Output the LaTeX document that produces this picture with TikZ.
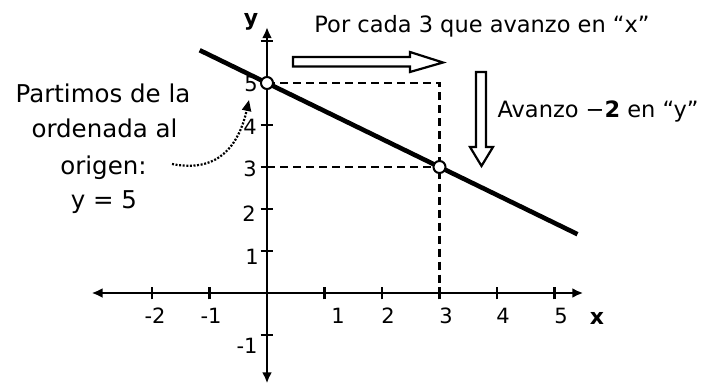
\documentclass[tikz,border=0pt]{standalone}
\usepackage{fontspec}
\setmainfont{DejaVu Sans}
\usetikzlibrary{arrows.meta}
\begin{document}
\begin{tikzpicture}[x=1pt,y=-1pt,
  axisline/.style={line width=2.4pt,{Latex[length=11pt,width=10pt]}-{Latex[length=11pt,width=10pt]}},
  tickmark/.style={line width=2.2pt},
  graphline/.style={line width=4.6pt},
  dashline/.style={line width=2.4pt,dash pattern=on 8pt off 5pt},
  ptmark/.style={circle,draw,line width=2pt,fill=white,minimum size=12pt,inner sep=0pt},
  hollow/.style={draw,line width=2.2pt,fill=white,line join=miter},
  dotarrow/.style={line width=2.2pt,dash pattern=on 2pt off 1.6pt,-{Triangle[length=11pt,width=9pt]}},
  ticklabel/.style={font=\fontsize{21}{23}\selectfont,inner sep=0pt},
  axislabel/.style={font=\fontsize{22}{24}\selectfont\bfseries,inner sep=0pt,anchor=base},
  note/.style={font=\fontsize{22.5}{26}\selectfont,inner sep=0pt,anchor=base},
  leftnote/.style={font=\fontsize{24.5}{28}\selectfont,inner sep=0pt,anchor=base}
]
\useasboundingbox (0,0) rectangle (712,385);

\begin{scope}[shift={(267,293)},x=57.5pt,y=42pt]
  \coordinate (xl) at (-3.05,0);
  \coordinate (xr) at (5.5,0);
  \coordinate (yb) at (0,-2.15);
  \coordinate (yt) at (0,6.33);
  \draw[axisline] (xl) -- (xr);
  \draw[axisline] (yb) -- (yt);
  \foreach \i in {-2,-1,1,2,3,4,5}
    \draw[tickmark] (\i,-0.15) -- (\i,0.15);
  \foreach \j in {-1,1,2,3,4,5,6}
    \draw[tickmark] (-0.11,\j) -- (0.11,\j);
  \coordinate (y5) at (0,5);
  \coordinate (y3) at (0,3);
  \coordinate (c35) at (3,5);
  \coordinate (c33) at (3,3);
  \coordinate (x3) at (3,0);
  \coordinate (ls) at (-1.17,5.78);
  \coordinate (le) at (5.4,1.4);
  \draw[dashline] (y5) -- (c35) -- (x3);
  \draw[dashline] (y3) -- (c33);
  \draw[graphline] (ls) -- (le);
  \node[ptmark] (p5) at (y5) {};
  \node[ptmark] (p3) at (c33) {};
\end{scope}

% tick labels
\node[ticklabel] (tm2) at (155,316) {-2};
\node[ticklabel] (tm1) at (211,316) {-1};
\node[ticklabel] (t1) at (338,316) {1};
\node[ticklabel] (t2) at (388,316) {2};
\node[ticklabel] (t3) at (446,316) {3};
\node[ticklabel] (t4) at (503,316) {4};
\node[ticklabel] (t5) at (561,316) {5};
\node[ticklabel] (u5) at (251,84) {5};
\node[ticklabel] (u4) at (250,127) {4};
\node[ticklabel] (u3) at (250,169) {3};
\node[ticklabel] (u2) at (249,214) {2};
\node[ticklabel] (u1) at (252,257) {1};
\node[ticklabel] (um1) at (247,346) {-1};

% axis labels
\node[axislabel] (ylab) at (251,26) {y};
\node[axislabel] (xlab) at (597,324) {x};

% hollow arrows
\draw[hollow] (293,57) -- (410,57) -- (410,52) -- (443,62.5) -- (410,72) -- (410,66.5) -- (293,66.5) -- cycle;
\draw[hollow] (476,72) -- (486,72) -- (486,147) -- (493,147) -- (481.5,166) -- (470,147) -- (476,147) -- cycle;

% texts
\node[note] (top) at (482,33) {Por cada 3 que avanzo en “x”};
\node[note] (avz) at (598,118) {Avanzo −\textbf{2} en “y”};
\node[leftnote] (l1) at (103,103) {Partimos de la};
\node[leftnote] (l2) at (104.5,138) {ordenada al};
\node[leftnote] (l3) at (103.5,175) {origen:};
\node[leftnote] (l4) at (104,208) {y = 5};

% dotted pointer
\coordinate (ds) at (172,164);
\coordinate (de) at (249,100);
\draw[dotarrow] (ds) .. controls (222,174) and (240,140) .. (de);
\end{tikzpicture}
\end{document}
